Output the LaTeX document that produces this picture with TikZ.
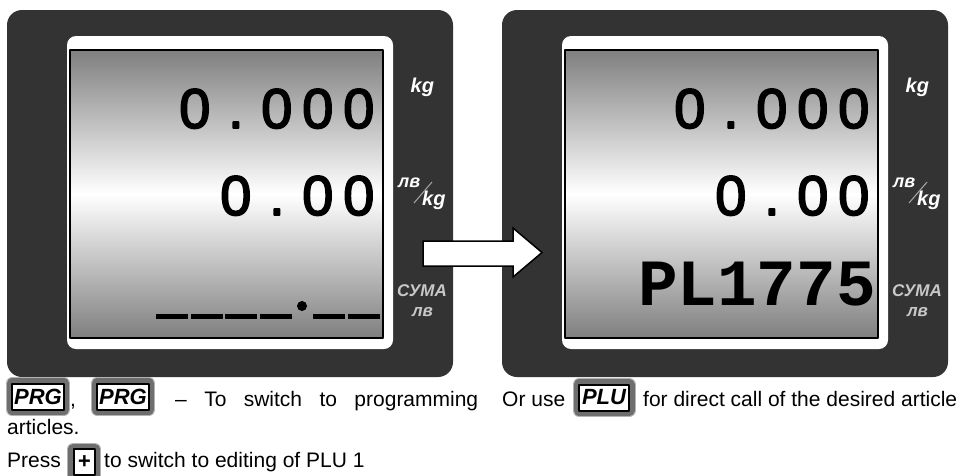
\documentclass[tikz,border=0pt]{standalone}
\usepackage{fontspec}
\setmainfont{Liberation Sans}
\newfontfamily\lcdfont{Liberation Sans}[FakeBold=3]
\newfontfamily\codefont{Liberation Mono}
\definecolor{panel}{HTML}{333333}
\definecolor{lcdgray}{HTML}{7F7F7F}
\definecolor{sumagray}{HTML}{C8C8C8}
\definecolor{slashgray}{HTML}{A8A8A8}
\definecolor{keygray}{HTML}{6E6E6E}
\definecolor{keyedge}{HTML}{B4B4B4}
\newcommand{\fsz}[1]{\fontsize{#1}{#1}\selectfont}
% every digit of the display in a cell of its own
\def\lcdcells#1{\lcdloop#1\relax}
\def\lcdloop#1{\ifx#1\relax\else\makebox[41pt]{#1}\expandafter\lcdloop\fi}
\begin{document}
\begin{tikzpicture}[x=1pt,y=-1pt,line join=round,
	lcd/.style={font=\lcdfont\fsz{56},inner sep=0pt,anchor=base east},
	unit/.style={font=\bfseries\itshape\fsz{#1},text=white,inner sep=0pt},
	key/.style={draw=black,line width=2pt,fill=white,font=\bfseries\itshape\fsz{22},
		inner xsep=2pt,inner ysep=0pt,minimum height=26pt,
		preaction={draw=keyedge,line width=13pt},preaction={draw=keygray,line width=11pt}},
	body/.style={font=\fsz{21},inner sep=0pt,anchor=base west}]
	\useasboundingbox (0,0) rectangle (960,475);
	\clip (0,0) rectangle (960,475);
	% the two scale displays
	\foreach \dx/\p in {0/l,495/r}{
		\begin{scope}[xshift=\dx pt]
			\fill[panel,rounded corners=15pt] (7,10) rectangle (453,377);
			\fill[white,rounded corners=9pt] (67,36) rectangle (393,349);
			\shade[top color=lcdgray,bottom color=lcdgray,middle color=white] (70,50) rectangle (383,338);
			\draw[line width=2pt] (70,50) rectangle (383,338);
			\node[lcd] (weight\p) at (379.5,128) {\lcdcells{0.000}};
			\node[lcd] (price\p) at (379.5,215) {\lcdcells{0.00}};
			\node[unit=20,anchor=base west] (kg\p) at (410.5,92) {kg};
			\node[unit=18,anchor=base west] (lvtop\p) at (398,187) {лв};
			\node[unit=20,anchor=base west] (kgbot\p) at (422,205) {kg};
			\draw[slashgray,line width=1pt] (414,203) -- (432,182);
			\node[unit=17,text=sumagray,anchor=base west] (suma\p) at (397,296) {СУМА};
			\node[unit=17,text=sumagray,anchor=base] (lv\p) at (422.5,316) {лв};
		\end{scope}
	}
	% empty entry on the left, code on the right
	\foreach \x in {156,190.5,225,259.5,313,347.5}
		\fill (\x,314) rectangle ++(32,4.5);
	\fill (302,306) circle (5pt);
	\node[lcd,font=\codefont\bfseries\fsz{66}] (code) at (876,305) {PL1775};
	\draw[line width=1.5pt,fill=white,line join=miter] (423,241) -- (513,241) -- (513,228)
		-- (542,252.5) -- (513,277) -- (513,266) -- (423,266) -- cycle;
	% keys and text
	\node[key] (prg1) at (38,396.5) {PRG};
	\node[body] (comma) at (70,406) {,};
	\node[key] (prg2) at (123,396.5) {PRG};
	\node[body] (line1) at (175,406) {\makebox[303pt][s]{– To switch to programming}};
	\node[body] (line2) at (7,434) {articles.};
	\node[body] (press) at (7,467) {Press};
	\node[key,minimum width=21pt] (plus) at (84,462) {+};
	\node[body] (line3) at (104,467) {to switch to editing of PLU 1};
	\node[body] (oruse) at (502,406) {Or use};
	\node[key,minimum width=50pt] (plu) at (604,397.5) {PLU};
	\node[body] (line4) at (643,406) {for direct call of the desired article};
\end{tikzpicture}
\end{document}
